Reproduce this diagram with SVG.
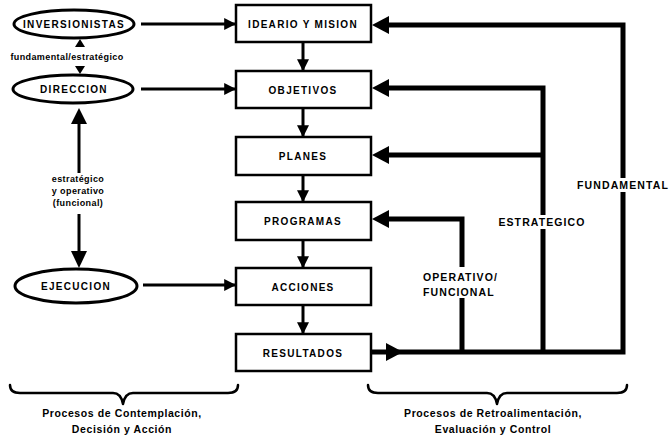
<svg xmlns="http://www.w3.org/2000/svg" width="672" height="443" viewBox="0 0 672 443">
<style>
.box{fill:#fff;stroke:#000;stroke-width:2.5}
.ell{fill:#fff;stroke:#000;stroke-width:3}
.t{font-family:"Liberation Sans",Arial,sans-serif;font-weight:bold;font-size:10px;letter-spacing:1.3px;text-anchor:middle;fill:#000}
.s{font-family:"Liberation Sans",Arial,sans-serif;font-weight:bold;font-size:9px;letter-spacing:0.4px;text-anchor:middle;fill:#000}
.b{font-family:"Liberation Sans",Arial,sans-serif;font-weight:bold;font-size:10.5px;letter-spacing:1.1px;text-anchor:middle;fill:#000}
.p{font-family:"Liberation Sans",Arial,sans-serif;font-weight:bold;font-size:10.5px;letter-spacing:0.6px;text-anchor:middle;fill:#000}
.thin{fill:none;stroke:#000;stroke-width:3}
.thick{fill:none;stroke:#000;stroke-width:5}
.brace{fill:none;stroke:#000;stroke-width:2.5;stroke-linecap:round;stroke-linejoin:round}
</style>
<defs>
<marker id="ah" markerWidth="4" markerHeight="4" refX="3.6" refY="2" orient="auto" markerUnits="strokeWidth">
<path d="M0,0 L4,2 L0,4 z" fill="#000"/>
</marker>
</defs>

<g id="connectors">
<path class="thin" d="M141 24 H235" marker-end="url(#ah)"/>
<path class="thin" d="M141 89 H235" marker-end="url(#ah)"/>
<path class="thin" d="M143 285 H235" marker-end="url(#ah)"/>
<polygon points="80,39 75,47 85,47" fill="#000"/>
<polygon points="80,74 75,66 85,66" fill="#000"/>
<path class="thin" d="M79 122 V173"/>
<path class="thin" d="M79 214 V252"/>
<polygon points="79,108 71,124 87,124" fill="#000"/>
<polygon points="79,268 71,251 87,251" fill="#000"/>
<path class="thin" d="M303 42 V70" marker-end="url(#ah)"/>
<path class="thin" d="M303 108 V136" marker-end="url(#ah)"/>
<path class="thin" d="M303 175 V201" marker-end="url(#ah)"/>
<path class="thin" d="M303 240 V267" marker-end="url(#ah)"/>
<path class="thin" d="M303 305 V333" marker-end="url(#ah)"/>
<path class="thick" d="M371 352 H623 V25 H385"/>
<path class="thick" d="M543 352 V88 H385"/>
<path class="thick" d="M543 155 H385"/>
<path class="thick" d="M462 352 V219 H385"/>
<polygon points="403,352 386,343 386,361" fill="#000"/>
<polygon points="372,25 389,16 389,34" fill="#000"/>
<polygon points="372,88 389,79 389,97" fill="#000"/>
<polygon points="372,155 389,146 389,164" fill="#000"/>
<polygon points="372,219 389,210 389,228" fill="#000"/>
<rect x="575" y="178" width="96" height="14" fill="#fff"/>
<text class="b" x="623" y="189">FUNDAMENTAL</text>
<rect x="496" y="215" width="92" height="14" fill="#fff"/>
<text class="b" x="542" y="226">ESTRATEGICO</text>
<rect x="420" y="267" width="80" height="31" fill="#fff"/>
<text class="b" x="423" y="281" style="text-anchor:start">OPERATIVO/</text>
<text class="b" x="423" y="296" style="text-anchor:start">FUNCIONAL</text>
</g>

<g id="inversionistas">
<ellipse class="ell" cx="74" cy="24" rx="60" ry="14"/>
<text class="t" x="74" y="28">INVERSIONISTAS</text>
</g>
<g id="direccion">
<ellipse class="ell" cx="73" cy="89" rx="60" ry="14"/>
<text class="t" x="74" y="93">DIRECCION</text>
</g>
<g id="ejecucion">
<ellipse class="ell" cx="76" cy="286" rx="61" ry="17"/>
<text class="t" x="76" y="290">EJECUCION</text>
</g>
<g id="label-fund-estr">
<text class="s" x="67" y="60">fundamental/estratégico</text>
</g>
<g id="label-estr-oper">
<text class="s" x="78" y="182">estratégico</text>
<text class="s" x="78" y="194">y operativo</text>
<text class="s" x="78" y="206">(funcional)</text>
</g>

<g id="ideario">
<rect class="box" x="236" y="5" width="135" height="37"/>
<text class="t" x="303" y="28">IDEARIO Y MISION</text>
</g>
<g id="objetivos">
<rect class="box" x="236" y="71" width="135" height="37"/>
<text class="t" x="303" y="94">OBJETIVOS</text>
</g>
<g id="planes">
<rect class="box" x="236" y="137" width="135" height="38"/>
<text class="t" x="303" y="160">PLANES</text>
</g>
<g id="programas">
<rect class="box" x="236" y="202" width="135" height="38"/>
<text class="t" x="303" y="225">PROGRAMAS</text>
</g>
<g id="acciones">
<rect class="box" x="236" y="268" width="135" height="37"/>
<text class="t" x="303" y="291">ACCIONES</text>
</g>
<g id="resultados">
<rect class="box" x="236" y="334" width="135" height="37"/>
<text class="t" x="303" y="357">RESULTADOS</text>
</g>

<g id="brace-left">
<path class="brace" d="M10 385 Q10 393 20 393 H113 Q121 393 123 404 Q125 393 133 393 H228 Q238 393 238 385"/>
<text class="p" x="122" y="417">Procesos de Contemplación,</text>
<text class="p" x="122" y="433">Decisión y Acción</text>
</g>
<g id="brace-right">
<path class="brace" d="M368 385 Q368 393 378 393 H487 Q495 393 497 404 Q499 393 507 393 H617 Q627 393 627 385"/>
<text class="p" x="493" y="417">Procesos de Retroalimentación,</text>
<text class="p" x="493" y="433">Evaluación y Control</text>
</g>
</svg>
